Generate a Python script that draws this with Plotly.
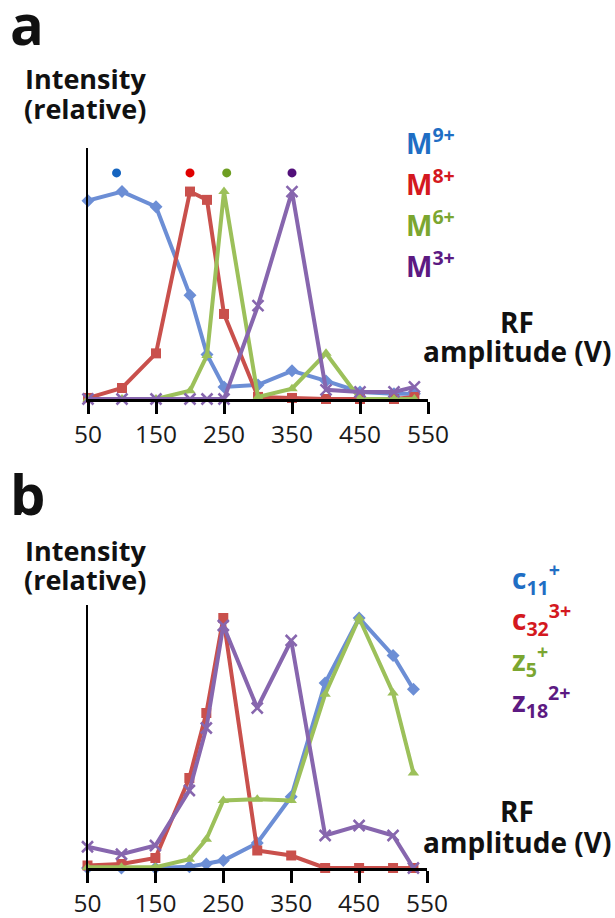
import plotly.graph_objects as go

# RF amplitude settings (V)
rf_a = [50, 100, 150, 200, 225, 250, 300, 350, 400, 450, 500, 530]
rf_b = [50, 100, 150, 200, 225, 250, 300, 350, 400, 450, 500, 530]

# Panel a: precursor charge states, relative intensity
m9 = [0.956, 1.0, 0.927, 0.50, 0.214, 0.058, 0.068, 0.136, 0.087, 0.034, 0.025, 0.025]
m8 = [0.005, 0.053, 0.22, 1.0, 0.96, 0.41, 0.01, 0.005, 0.0, 0.0, 0.0, 0.01]
m6 = [0.0, 0.0, 0.0, 0.04, 0.21, 1.0, 0.01, 0.05, 0.22, 0.0, 0.0, 0.0]
m3 = [0.0, 0.0, 0.0, 0.0, 0.0, 0.0, 0.45, 1.0, 0.044, 0.034, 0.034, 0.058]

# Panel b: fragment ions, relative intensity
c11 = [0.0, 0.0, 0.0, 0.005, 0.016, 0.03, 0.10, 0.285, 0.74, 1.0, 0.85, 0.715]
c32 = [0.01, 0.016, 0.04, 0.36, 0.62, 1.0, 0.07, 0.05, 0.0, 0.0, 0.0, 0.0]
z5 = [0.003, 0.003, 0.003, 0.035, 0.115, 0.27, 0.275, 0.27, 0.695, 1.0, 0.70, 0.38]
z18 = [0.085, 0.055, 0.09, 0.31, 0.56, 0.97, 0.64, 0.91, 0.13, 0.17, 0.13, 0.0]

# Peak-position markers (dots above maxima)
dots_a_x = [92, 200, 254, 350]
dots_a_y = [1.09, 1.09, 1.09, 1.09]
dots_b_x = [250, 341, 450, 450]
dots_b_y = [1.08, 1.08, 1.13, 1.08]

tick_vals = [50, 150, 250, 350, 450, 550]
tick_text = ["50", "150", "250", "350", "450", "550"]

names_a = ["M<sup>9+</sup>", "M<sup>8+</sup>", "M<sup>6+</sup>", "M<sup>3+</sup>"]
names_b = ["c<sub>11</sub><sup>+</sup>", "c<sub>32</sub><sup>3+</sup>",
           "z<sub>5</sub><sup>+</sup>", "z<sub>18</sub><sup>2+</sup>"]

W, H = 615, 918
FONT = "Open Sans"

line_cols = ["#6C8ED5", "#C9504C", "#9CC05A", "#8766AE"]
text_cols = ["#1F6EC4", "#D41820", "#7BA630", "#5C1A82"]
dot_a_cols = ["#1565C0", "#E00000", "#6E9E22", "#52107A"]
dot_b_cols = ["#E00000", "#52107A", "#1570D0", "#78A82A"]
symbols = ["diamond", "square", "triangle-up", "x-thin"]


def px(x):
    return x / W


def py(y):
    return 1 - y / H


fig = go.Figure()


def add_series(xs, series, xa, ya):
    for vals, col, sym in zip(series, line_cols, symbols):
        marker = dict(symbol=sym, size=10, color=col)
        if sym == "x-thin":
            marker = dict(symbol=sym, size=11, color=col, line=dict(color=col, width=2.5))
        fig.add_trace(go.Scatter(
            x=xs, y=vals, mode="lines+markers", xaxis=xa, yaxis=ya,
            line=dict(color=col, width=4), marker=marker,
            cliponaxis=False, showlegend=False, hoverinfo="skip"))


add_series(rf_a, [m9, m8, m6, m3], "x", "y")
add_series(rf_b, [c11, c32, z5, z18], "x2", "y2")

fig.add_trace(go.Scatter(x=dots_a_x, y=dots_a_y, mode="markers", xaxis="x", yaxis="y",
                         marker=dict(size=9, color=dot_a_cols), cliponaxis=False,
                         showlegend=False, hoverinfo="skip"))
fig.add_trace(go.Scatter(x=dots_b_x, y=dots_b_y, mode="markers", xaxis="x2", yaxis="y2",
                         marker=dict(size=9, color=dot_b_cols), cliponaxis=False,
                         showlegend=False, hoverinfo="skip"))

xaxis_common = dict(
    range=[50, 550], tickvals=tick_vals, ticktext=tick_text, automargin=False,
    showgrid=False, zeroline=False, showline=True, linecolor="black", linewidth=2.5,
    ticks="outside", ticklen=12, tickwidth=2.5, tickcolor="black",
    tickfont=dict(family=FONT, size=24.5, color="#1a1a1a"), fixedrange=True,
)
yaxis_common = dict(
    showgrid=False, zeroline=False, showline=True, linecolor="black", linewidth=2,
    showticklabels=False, ticks="", fixedrange=True, automargin=False,
)

fig.update_layout(
    width=W, height=H, autosize=False, margin=dict(l=0, r=0, t=0, b=0, pad=0),
    paper_bgcolor="white", plot_bgcolor="white",
    xaxis=dict(domain=[px(88), px(428)], anchor="y", **xaxis_common),
    yaxis=dict(domain=[py(399), py(148)], range=[0, 1.21], anchor="x", **yaxis_common),
    xaxis2=dict(domain=[px(87.5), px(427)], anchor="y2", **xaxis_common),
    yaxis2=dict(domain=[py(868), py(605)], range=[0, 1.052], anchor="x2", **yaxis_common),
)

ann = []


def text(x, y, s, size, color="#111111", bold=True, xanchor="left"):
    ann.append(dict(
        x=px(x), y=py(y), xref="paper", yref="paper", text=s, showarrow=False,
        xanchor=xanchor, yanchor="middle",
        font=dict(family=FONT, size=size, color=color, weight="bold" if bold else "normal"),
    ))


# Panel letters
text(8, 23, "a", 56)
text(8, 493, "b", 56)

# y-axis titles
text(23, 79, "Intensity", 27)
text(22, 108, "(relative)", 27)
text(23, 550, "Intensity", 27)
text(22, 579, "(relative)", 27)

# x-axis titles
text(517, 322, "RF", 28, xanchor="center")
text(517, 351, "amplitude (V)", 28, xanchor="center")
text(517, 811, "RF", 28, xanchor="center")
text(517, 842, "amplitude (V)", 28, xanchor="center")

# Series labels, panel a
for i, (name, col) in enumerate(zip(names_a, text_cols)):
    text(404, 142 + i * 41, name, 28, color=col)

# Series labels, panel b
for i, (name, col) in enumerate(zip(names_b, text_cols)):
    text(510, 578 + i * 41, name, 28, color=col)

fig.update_layout(annotations=ann)

fig.write_html("out.html")
